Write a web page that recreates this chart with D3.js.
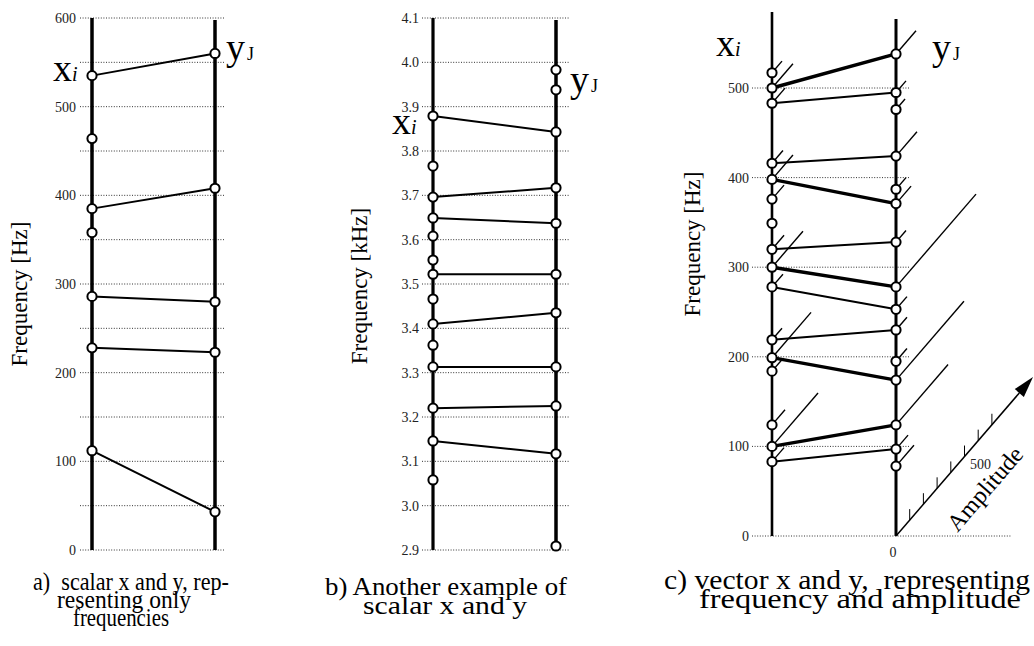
<!DOCTYPE html>
<html>
<head>
<meta charset="utf-8">
<script src="https://cdn.jsdelivr.net/npm/d3@7"></script>
<style>
  body { margin: 0; background: #fff; }
  text { font-family: "Liberation Serif", "Times New Roman", serif; fill: #000; }
</style>
</head>
<body>
<svg id="chart" width="1034" height="646"></svg>
<script>
// ---- data ----
// a) scalar frequencies in Hz: x_i (left), y_J (right), matched pairs [i, j]
var aX = [535, 464, 385, 358, 286, 228, 112];
var aY = [560, 408, 280, 223, 43];
var aLinks = [[0, 0], [2, 1], [4, 2], [5, 3], [6, 4]];
var aGrid = [0, 50, 100, 150, 200, 250, 300, 350, 400, 450, 500, 550, 600];
var aTicks = [0, 100, 200, 300, 400, 500, 600];

// b) scalar frequencies in kHz
var bX = [3.879, 3.766, 3.696, 3.649, 3.608, 3.554, 3.522, 3.466, 3.410, 3.362, 3.313, 3.220, 3.146, 3.058];
var bY = [3.983, 3.938, 3.843, 3.717, 3.637, 3.522, 3.435, 3.313, 3.225, 3.117, 2.909];
var bLinks = [[0, 2], [2, 3], [3, 4], [6, 5], [8, 6], [10, 7], [11, 8], [12, 9]];
var bTicks = [2.9, 3.0, 3.1, 3.2, 3.3, 3.4, 3.5, 3.6, 3.7, 3.8, 3.9, 4.0, 4.1];

// c) vector x and y: frequency (Hz) + amplitude
var cXFreq = [517, 500, 483, 416, 398, 376, 349, 320, 300, 278, 219, 199, 184, 124, 100, 83];
var cXAmp  = [73, 153, 95, 80, 153, 88, 0, 88, 226, 80, 73, 285, 80, 95, 336, 88];
var cYFreq = [538, 495, 476, 424, 387, 371, 328, 278, 253, 230, 195, 174, 124, 97, 78];
var cYAmp  = [146, 73, 66, 153, 73, 110, 73, 584, 80, 80, 80, 496, 380, 88, 131];
// [i, j, strong]
var cLinks = [[1, 0, 1], [2, 1, 0], [3, 3, 0], [4, 5, 1], [7, 6, 0], [8, 7, 1],
              [9, 8, 0], [10, 9, 0], [11, 11, 1], [14, 12, 1], [15, 13, 0]];
var cTicks = [0, 100, 200, 300, 400, 500];
var ampTicks = [100, 200, 300, 400, 500, 600, 700];

var captions = {
  a: ["a)  scalar x and y, rep-", "resenting only", "frequencies"],
  b: ["b) Another example of", "scalar x and y"],
  c: ["c) vector x and y,  representing", "frequency and amplitude"]
};

// ---- drawing ----
var svg = d3.select("#chart");
svg.append("rect").attr("width", 1034).attr("height", 646).attr("fill", "#fff");

function drawPanel(p) {
  var g = svg.append("g");
  var y = p.y;

  g.selectAll(".grid").data(p.grid).enter().append("line")
      .attr("x1", p.gridX0)
      .attr("x2", function(d) { return p.gridX1(d); })
      .attr("y1", function(d) { return y(d); })
      .attr("y2", function(d) { return y(d); })
      .attr("stroke", "#333").attr("stroke-width", 1)
      .attr("stroke-dasharray", "1,1.6");

  g.selectAll(".tick").data(p.ticks).enter().append("text")
      .attr("x", p.labelX)
      .attr("y", function(d) { return y(d) + 5; })
      .attr("text-anchor", "end")
      .attr("font-size", 14)
      .style("fill", "#222")
      .text(p.fmt);

  // the two vertical axes
  g.append("line").attr("x1", p.left).attr("x2", p.left)
      .attr("y1", p.leftTop).attr("y2", p.bottom)
      .attr("stroke", "#000").attr("stroke-width", p.axisW[0]);
  g.append("line").attr("x1", p.right).attr("x2", p.right)
      .attr("y1", p.rightTop).attr("y2", p.rightBottom || p.bottom)
      .attr("stroke", "#000").attr("stroke-width", p.axisW[1]);

  g.append("text")
      .attr("transform", "translate(" + p.titleX + "," + p.titleY + ") rotate(-90)")
      .attr("text-anchor", "middle")
      .attr("font-size", 23)
      .text(p.title);

  return g;
}

function drawPoints(g, p, xs, ys, links) {
  var y = p.y;
  g.selectAll(".link").data(links).enter().append("line")
      .attr("x1", p.left).attr("y1", function(d) { return y(xs[d[0]]); })
      .attr("x2", p.right).attr("y2", function(d) { return y(ys[d[1]]); })
      .attr("stroke", "#000")
      .attr("stroke-width", function(d) { return d[2] ? 3.4 : 2; });

  var pts = xs.map(function(f) { return {x: p.left, f: f}; })
      .concat(ys.map(function(f) { return {x: p.right, f: f}; }));
  g.selectAll(".pt").data(pts).enter().append("circle")
      .attr("cx", function(d) { return d.x; })
      .attr("cy", function(d) { return y(d.f); })
      .attr("r", 4.6)
      .attr("fill", "#fff").attr("stroke", "#000").attr("stroke-width", 2);
}

function drawLabels(p) {
  var tx = svg.append("text").attr("x", p.xiPos[0]).attr("y", p.xiPos[1]);
  tx.append("tspan").attr("font-size", 38).text("x");
  tx.append("tspan").attr("font-size", 20).attr("font-style", "italic").text("i");
  var ty = svg.append("text").attr("x", p.yjPos[0]).attr("y", p.yjPos[1]);
  ty.append("tspan").attr("font-size", 38).text("y");
  ty.append("tspan").attr("font-size", 18).attr("dx", 2).text("J");
}

// each line: [centerX, baseline, width]
function drawCaption(lines, size, pos) {
  lines.forEach(function(s, k) {
    svg.append("text")
        .attr("x", pos[k][0] - pos[k][2] / 2).attr("y", pos[k][1])
        .attr("font-size", size)
        .attr("textLength", pos[k][2])
        .attr("lengthAdjust", "spacingAndGlyphs")
        .style("white-space", "pre")
        .text(s);
  });
}

// panel a
var pa = {
  y: d3.scaleLinear().domain([0, 600]).range([550, 18]),
  grid: aGrid, ticks: aTicks, fmt: d3.format("d"),
  gridX0: 80, gridX1: function() { return 225; }, labelX: 76,
  left: 92, right: 215, leftTop: 18, rightTop: 20, bottom: 550, axisW: [3.5, 3.5],
  title: "Frequency [Hz]", titleX: 27, titleY: 294,
  xiPos: [53, 81], yjPos: [226, 60]
};
var ga = drawPanel(pa);
drawPoints(ga, pa, aX, aY, aLinks.map(function(l) { return [l[0], l[1], 0]; }));
drawLabels(pa);

// panel b
var pb = {
  y: d3.scaleLinear().domain([2.9, 4.1]).range([550, 18]),
  grid: bTicks, ticks: bTicks, fmt: d3.format(".1f"),
  gridX0: 422, gridX1: function() { return 570; }, labelX: 419,
  left: 433, right: 556, leftTop: 18, rightTop: 20, bottom: 550, axisW: [3.2, 3.5],
  title: "Frequency [kHz]", titleX: 367, titleY: 286,
  xiPos: [392, 134], yjPos: [570, 92]
};
pb.rightBottom = pb.y(2.909);
var gb = drawPanel(pb);
drawPoints(gb, pb, bX, bY, bLinks.map(function(l) { return [l[0], l[1], 0]; }));
drawLabels(pb);

// panel c
var pc = {
  y: d3.scaleLinear().domain([0, 500]).range([536, 88]),
  grid: cTicks, ticks: cTicks, fmt: d3.format("d"),
  gridX0: 752, gridX1: function(d) { return d === 0 ? 1012 : 910; }, labelX: 749,
  left: 772, right: 896, leftTop: 12, rightTop: 19, bottom: 536, axisW: [2.6, 3],
  title: "Frequency [Hz]", titleX: 700, titleY: 244,
  xiPos: [716, 56], yjPos: [932, 60]
};
var gc = drawPanel(pc);

// amplitude: drawn as an oblique axis going up and to the right
var amp = d3.scaleLinear().domain([0, 1000]).range([0, 137]);
var slope = 1.16;
function ampEnd(x0, y0, a) { return [x0 + amp(a), y0 - amp(a) * slope]; }

var stems = cXFreq.map(function(f, i) { return {x: pc.left, f: f, a: cXAmp[i]}; })
    .concat(cYFreq.map(function(f, i) { return {x: pc.right, f: f, a: cYAmp[i]}; }))
    .filter(function(d) { return d.a > 0; });
gc.selectAll(".stem").data(stems).enter().append("line")
    .attr("x1", function(d) { return d.x; })
    .attr("y1", function(d) { return pc.y(d.f); })
    .attr("x2", function(d) { return ampEnd(d.x, pc.y(d.f), d.a)[0]; })
    .attr("y2", function(d) { return ampEnd(d.x, pc.y(d.f), d.a)[1]; })
    .attr("stroke", "#000").attr("stroke-width", 1.4);

var o = [pc.right, pc.y(0)];
var tip = ampEnd(o[0], o[1], 1000);
var base = ampEnd(o[0], o[1], 900);
gc.append("line").attr("x1", o[0]).attr("y1", o[1]).attr("x2", base[0]).attr("y2", base[1])
    .attr("stroke", "#000").attr("stroke-width", 1.5);
var ang = Math.atan2(tip[1] - o[1], tip[0] - o[0]);
var hw = 6;
gc.append("path")
    .attr("d", "M" + tip[0] + "," + tip[1] +
      "L" + (base[0] + hw * Math.sin(ang)) + "," + (base[1] - hw * Math.cos(ang)) +
      "L" + (base[0] - hw * Math.sin(ang)) + "," + (base[1] + hw * Math.cos(ang)) + "Z")
    .attr("fill", "#000");
gc.selectAll(".atick").data(ampTicks).enter().append("line")
    .attr("x1", function(d) { return ampEnd(o[0], o[1], d)[0]; })
    .attr("x2", function(d) { return ampEnd(o[0], o[1], d)[0]; })
    .attr("y1", function(d) { return ampEnd(o[0], o[1], d)[1]; })
    .attr("y2", function(d) { return ampEnd(o[0], o[1], d)[1] - 11; })
    .attr("stroke", "#000").attr("stroke-width", 1);
var p500 = ampEnd(o[0], o[1], 500);
gc.append("text").attr("x", p500[0] + 16).attr("y", p500[1] + 12)
    .attr("text-anchor", "middle").attr("font-size", 14).style("fill", "#222").text("500");
gc.append("text").attr("x", o[0] - 3).attr("y", o[1] + 21)
    .attr("text-anchor", "middle").attr("font-size", 14).style("fill", "#222").text("0");
gc.append("text")
    .attr("transform", "translate(991,494) rotate(" + (ang * 180 / Math.PI) + ")")
    .attr("text-anchor", "middle").attr("font-size", 24).text("Amplitude");

drawPoints(gc, pc, cXFreq, cYFreq, cLinks);
drawLabels(pc);

// captions
drawCaption(captions.a, 25, [[131, 590, 196], [124, 608, 134], [121, 626, 96]]);
drawCaption(captions.b, 26, [[446, 595, 242], [445, 614, 164]]);
drawCaption(captions.c, 26.5, [[847, 589, 366], [860, 608, 322]]);
</script>
</body>
</html>
